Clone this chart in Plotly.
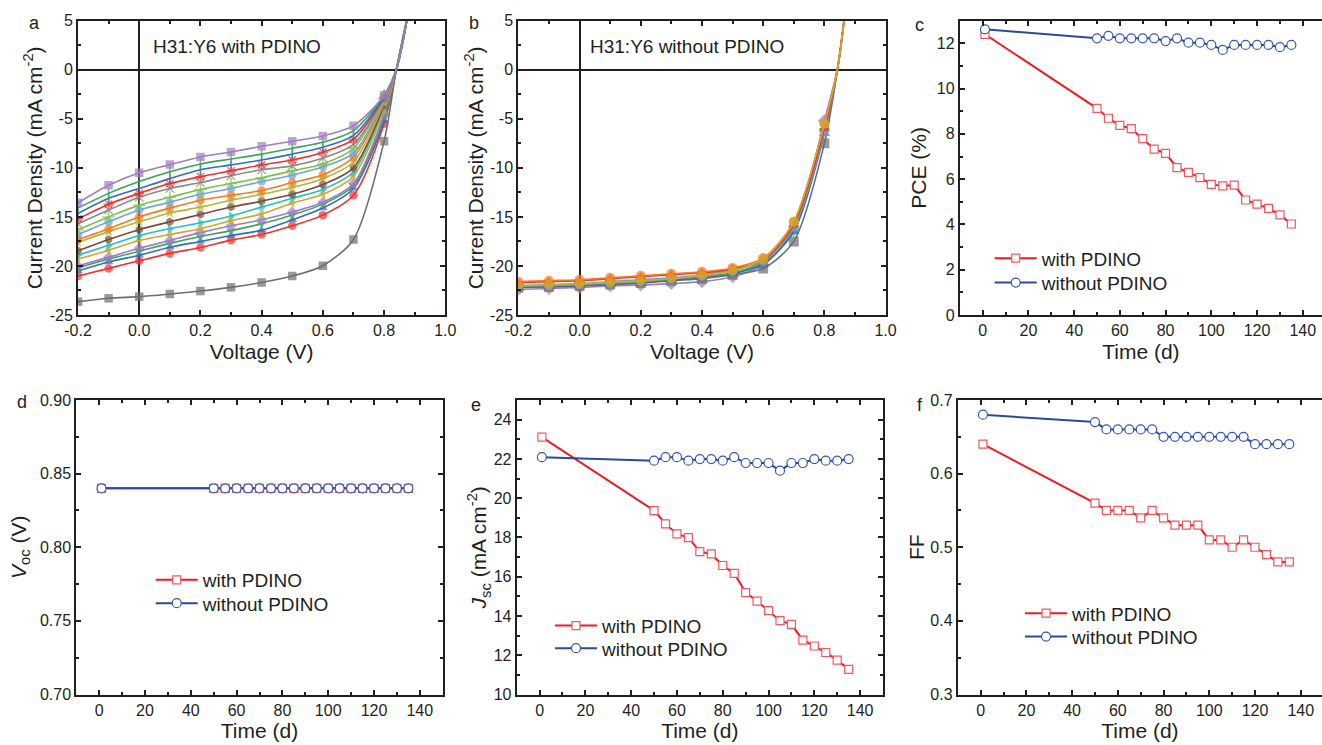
import plotly.graph_objects as go

# ---------------- data ----------------
voltage = [-0.2, -0.1, 0.0, 0.1, 0.2, 0.3, 0.4, 0.5, 0.6, 0.7, 0.8]
voltage_tail = [0.84, 0.88]

v_ticks = [-0.2, 0.0, 0.2, 0.4, 0.6, 0.8, 1.0]
v_ticktext = ["-0.2", "0.0", "0.2", "0.4", "0.6", "0.8", "1.0"]
j_ticks = [-25, -20, -15, -10, -5, 0, 5]
j_ticktext = ["-25", "-20", "-15", "-10", "-5", "0", "5"]

# panel a: H31:Y6 with PDINO (J in mA cm-2)
a_colors = ["#6d6e71", "#ee3131", "#2f6fc0", "#3aa655", "#a07cc5", "#d4a52a", "#22c1c3",
            "#7b4b3a", "#b5b531", "#f47a20", "#6ea6d8", "#7dc242", "#8a8a8a", "#ee3131",
            "#2f6fc0", "#3aa655", "#a07cc5"]
a_symbols = ["square", "circle", "triangle-up", "triangle-down", "diamond", "triangle-left",
             "triangle-right", "hexagon", "star", "circle", "circle", "cross-thin-open",
             "x-thin-open", "asterisk-open", "line-ns-open", "line-ns-open", "square"]
a_J = [
    [-23.64, -23.3, -23.13, -22.86, -22.56, -22.18, -21.68, -21.03, -19.98, -17.3, -7.29],
    [-21.03, -20.25, -19.47, -18.72, -18.11, -17.37, -16.79, -15.9, -14.82, -12.79, -5.5],
    [-20.5, -19.6, -18.9, -18.1, -17.5, -16.9, -16.35, -15.3, -14.1, -12.1, -5.2],
    [-20.2, -19.3, -18.5, -17.7, -17.0, -16.4, -15.7, -14.8, -13.7, -11.8, -4.8],
    [-20.0, -19.1, -18.2, -17.4, -16.6, -15.9, -15.3, -14.5, -13.5, -11.6, -4.5],
    [-19.3, -18.4, -17.4, -16.8, -16.2, -15.4, -14.7, -13.6, -12.7, -10.85, -4.1],
    [-18.9, -17.9, -16.9, -16.2, -15.6, -14.9, -14.0, -13.1, -12.2, -10.4, -3.8],
    [-18.45, -17.3, -16.3, -15.5, -14.75, -14.0, -13.4, -12.7, -11.7, -10.0, -3.6],
    [-17.6, -16.5, -15.5, -14.6, -14.0, -13.3, -12.7, -12.0, -11.1, -9.4, -3.4],
    [-17.3, -16.2, -15.0, -14.1, -13.3, -12.8, -12.3, -11.5, -10.7, -8.9, -3.3],
    [-16.8, -15.5, -14.3, -13.5, -12.7, -12.1, -11.4, -10.75, -9.9, -8.5, -3.1],
    [-16.3, -15.0, -13.8, -13.0, -12.2, -11.6, -11.0, -10.3, -9.6, -8.0, -2.95],
    [-15.7, -14.3, -13.0, -12.1, -11.5, -10.8, -10.2, -9.8, -9.0, -7.6, -2.9],
    [-15.2, -13.7, -12.6, -11.6, -10.9, -10.3, -9.7, -9.2, -8.4, -7.1, -2.8],
    [-14.65, -13.1, -12.1, -11.1, -10.2, -9.7, -9.2, -8.6, -7.9, -6.7, -2.7],
    [-14.1, -12.6, -11.4, -10.4, -9.6, -9.1, -8.6, -8.0, -7.4, -6.2, -2.6],
    [-13.57, -11.77, -10.5, -9.67, -8.89, -8.38, -7.80, -7.29, -6.75, -5.70, -2.61],
]
a_tail = [0.0, 6.0]

# panel b: H31:Y6 without PDINO
b_colors = ["#a07cc5", "#6d6e71", "#2f6fc0", "#3aa655", "#6ea6d8", "#ee3131", "#f47a20", "#d4a52a"]
b_symbols = ["diamond", "square", "triangle-up", "triangle-down", "circle", "triangle-up",
             "circle", "circle"]
b_J = [
    [-22.4, -22.3, -22.2, -22.05, -21.95, -21.8, -21.6, -21.1, -19.9, -16.35, -5.2],
    [-22.2, -22.15, -22.05, -21.9, -21.75, -21.5, -21.3, -20.9, -20.25, -17.5, -7.5],
    [-22.2, -22.1, -22.0, -21.85, -21.7, -21.45, -21.2, -20.8, -19.8, -16.5, -6.5],
    [-22.1, -22.0, -21.9, -21.75, -21.6, -21.35, -21.1, -20.7, -19.6, -16.2, -6.2],
    [-22.0, -21.9, -21.8, -21.6, -21.4, -21.2, -20.9, -20.4, -19.5, -16.0, -6.3],
    [-21.7, -21.6, -21.5, -21.3, -21.1, -20.9, -20.7, -20.3, -19.4, -15.8, -6.0],
    [-21.6, -21.5, -21.4, -21.2, -21.0, -20.8, -20.6, -20.2, -19.2, -15.5, -5.5],
    [-22.05, -21.95, -21.85, -21.7, -21.55, -21.3, -21.0, -20.5, -19.3, -15.5, -5.5],
]
b_voltage_tail = [0.845, 0.875]
b_tail = [0.5, 8.0]

days = [1, 50, 55, 60, 65, 70, 75, 80, 85, 90, 95, 100, 105, 110, 115, 120, 125, 130, 135]

pce_with = [12.4, 9.13, 8.69, 8.38, 8.23, 7.79, 7.33, 7.14, 6.51, 6.30, 6.07, 5.77, 5.70,
            5.74, 5.08, 4.90, 4.71, 4.42, 4.02]
pce_without = [12.62, 12.22, 12.33, 12.22, 12.22, 12.22, 12.22, 12.1, 12.22, 12.03, 12.03,
               11.93, 11.71, 11.93, 11.93, 11.93, 11.93, 11.83, 11.93]

voc_with = [0.84] * 19
voc_without = [0.84] * 19

jsc_with = [23.11, 19.37, 18.69, 18.18, 17.99, 17.28, 17.16, 16.57, 16.17, 15.19, 14.76,
            14.27, 13.76, 13.57, 12.77, 12.47, 12.14, 11.75, 11.28]
jsc_without = [22.09, 21.91, 22.09, 22.09, 21.91, 21.99, 21.99, 21.91, 22.09, 21.79, 21.79,
               21.79, 21.4, 21.79, 21.79, 21.99, 21.91, 21.91, 21.99]

ff_with = [0.64, 0.56, 0.55, 0.55, 0.55, 0.54, 0.55, 0.54, 0.53, 0.53, 0.53, 0.51, 0.51,
           0.50, 0.51, 0.50, 0.49, 0.48, 0.48]
ff_without = [0.68, 0.67, 0.66, 0.66, 0.66, 0.66, 0.66, 0.65, 0.65, 0.65, 0.65, 0.65, 0.65,
              0.65, 0.65, 0.64, 0.64, 0.64, 0.64]

series_names = ["with PDINO", "without PDINO"]

# ---------------- style ----------------
W, H = 1322, 745
FONT = "Liberation Sans, Arial, sans-serif"
INK = "#231f20"
RED = "#ed1c24"
BLUE = "#2c4a9c"
TITLE_SIZE = 21


def px_x(p):
    return p / W


def px_y(p):
    return 1 - p / H


fig = go.Figure()

# ---- panel a ----
for color, sym, J in zip(a_colors, a_symbols, a_J):
    open_sym = sym.endswith("-open")
    fig.add_trace(go.Scatter(
        x=voltage + voltage_tail, y=J + a_tail, xaxis="x", yaxis="y",
        mode="lines+markers", line=dict(color=color, width=1.6, shape="spline", smoothing=0.8),
        marker=dict(symbol=sym, size=[8.5] * len(voltage) + [0] * len(voltage_tail), color=color,
                    line=dict(color=color, width=1.5 if open_sym else 0)),
        showlegend=False))

# ---- panel b ----
for color, sym, J in zip(b_colors, b_symbols, b_J):
    fig.add_trace(go.Scatter(
        x=voltage + b_voltage_tail, y=J + b_tail, xaxis="x2", yaxis="y2",
        mode="lines+markers", line=dict(color=color, width=1.6, shape="spline", smoothing=0.8),
        marker=dict(symbol=sym, size=[10] * len(voltage) + [0] * len(b_voltage_tail), color=color,
                    line=dict(width=0)),
        showlegend=False))

# ---- panels c-f ----
panels = [
    ("x3", "y3", pce_with, pce_without, ("legend", "legend2")),
    ("x4", "y4", voc_with, voc_without, ("legend3", "legend4")),
    ("x5", "y5", jsc_with, jsc_without, ("legend5", "legend6")),
    ("x6", "y6", ff_with, ff_without, ("legend7", "legend8")),
]
for xa, ya, yw, ywo, (lg1, lg2) in panels:
    fig.add_trace(go.Scatter(
        x=days, y=yw, xaxis=xa, yaxis=ya, name=series_names[0], legend=lg1,
        mode="lines+markers", line=dict(color=RED, width=2),
        marker=dict(symbol="square", size=8, color="white", line=dict(color="#f0595f", width=1.2))))
    fig.add_trace(go.Scatter(
        x=days, y=ywo, xaxis=xa, yaxis=ya, name=series_names[1], legend=lg2,
        mode="lines+markers", line=dict(color=BLUE, width=2),
        marker=dict(symbol="circle", size=9, color="white", line=dict(color="#3556b8", width=1.2))))

# ---------------- axes ----------------
row1 = [px_y(315), px_y(20.7)]
row2 = [px_y(694.5), px_y(400)]


def axis(domain, rng, dtick, minor, title, anchor, mirror=True, zeroline=False, standoff=None):
    d = dict(domain=domain, range=rng, dtick=dtick, tick0=0, anchor=anchor, automargin=False,
             showline=True, linecolor=INK, linewidth=2, mirror="allticks" if mirror else False,
             ticks="inside", ticklen=5, tickwidth=1.5, tickcolor=INK,
             minor=dict(dtick=minor, tick0=0, ticks="inside", ticklen=3, tickwidth=1.5, tickcolor=INK),
             showgrid=False, zeroline=zeroline, zerolinecolor=INK, zerolinewidth=2,
             tickfont=dict(family=FONT, size=16, color=INK),
             title=dict(text=title, font=dict(family=FONT, size=TITLE_SIZE, color=INK)))
    if standoff is not None:
        d["title"]["standoff"] = standoff
    return d


fig.update_layout(
    xaxis=axis([px_x(78), px_x(445.3)], [-0.2, 1.0], 0.2, 0.1, "Voltage (V)", "y", zeroline=True, standoff=6),
    yaxis=axis(row1, [-25, 5], 5, 2.5, "Current Density (mA cm<sup>-2</sup>)", "x", zeroline=True, standoff=1),
    xaxis2=axis([px_x(518.3), px_x(885.6)], [-0.2, 1.0], 0.2, 0.1, "Voltage (V)", "y2", zeroline=True, standoff=6),
    yaxis2=axis(row1, [-25, 5], 5, 2.5, "Current Density (mA cm<sup>-2</sup>)", "x2", zeroline=True, standoff=1),
    xaxis3=axis([px_x(959.8), 1.0], [-10, 148.4], 20, 10, "Time (d)", "y3", standoff=6),
    yaxis3=axis(row1, [0, 13], 2, 1, "PCE (%)", "x3", mirror=False, standoff=4),
    xaxis4=axis([px_x(76.3), px_x(442.7)], [-10, 150], 20, 10, "Time (d)", "y4", standoff=6),
    yaxis4=axis(row2, [0.70, 0.90], 0.05, 0.025, "<i>V</i><sub>oc</sub> (V)", "x4", standoff=8),
    xaxis5=axis([px_x(516.7), px_x(883.0)], [-10, 150], 20, 10, "Time (d)", "y5", standoff=6),
    yaxis5=axis(row2, [10, 25], 2, 1, "<i>J</i><sub>sc</sub> (mA cm<sup>-2</sup>)", "x5", standoff=1),
    xaxis6=axis([px_x(957.8), 1.0], [-10, 149.3], 20, 10, "Time (d)", "y6", standoff=6),
    yaxis6=axis(row2, [0.3, 0.7], 0.1, 0.05, "FF", "x6", mirror=False, standoff=0),
)
for ax in (fig.layout.xaxis, fig.layout.xaxis2):
    ax.tickmode = "array"
    ax.tickvals = v_ticks
    ax.ticktext = v_ticktext
for ax in (fig.layout.yaxis, fig.layout.yaxis2):
    ax.tickmode = "array"
    ax.tickvals = j_ticks
    ax.ticktext = j_ticktext
fig.layout.yaxis4.tickformat = ".2f"
fig.layout.yaxis6.tickformat = ".1f"


def legend(x, y):
    return dict(x=px_x(x), y=px_y(y), xanchor="left", yanchor="middle", xref="paper", yref="paper",
                bgcolor="rgba(0,0,0,0)", borderwidth=0, itemwidth=42, tracegroupgap=0,
                font=dict(family=FONT, size=19, color=INK))


# legend item rows (marker centre minus 26 px, row centre y)
fig.update_layout(
    legend=legend(989.7, 258.3), legend2=legend(989.7, 282.7),
    legend3=legend(150.7, 580.0), legend4=legend(150.7, 603.3),
    legend5=legend(550.0, 625.7), legend6=legend(550.0, 648.3),
    legend7=legend(1020.0, 613.3), legend8=legend(1020.0, 636.7),
)

# ---------------- text ----------------
labels = [("a", 34, 23), ("b", 474, 23), ("c", 919, 25), ("d", 22, 402), ("e", 476, 405), ("f", 920, 405)]
for t, x, y in labels:
    fig.add_annotation(text=t, x=px_x(x), y=px_y(y), xref="paper", yref="paper", showarrow=False,
                       xanchor="center", yanchor="middle", font=dict(family=FONT, size=18, color=INK))
fig.add_annotation(text="H31:Y6 with PDINO", x=px_x(150.7), y=px_y(46.7), xref="paper", yref="paper",
                   showarrow=False, xanchor="left", yanchor="middle",
                   font=dict(family=FONT, size=19, color=INK))
fig.add_annotation(text="H31:Y6 without PDINO", x=px_x(588.3), y=px_y(46.7), xref="paper", yref="paper",
                   showarrow=False, xanchor="left", yanchor="middle",
                   font=dict(family=FONT, size=19, color=INK))

fig.update_layout(width=W, height=H, margin=dict(l=0, r=0, t=0, b=0, autoexpand=False),
                  paper_bgcolor="white", plot_bgcolor="white", showlegend=True)

fig.write_html("out.html", config={"displayModeBar": False},
               post_script="document.body.style.margin='0px';")
